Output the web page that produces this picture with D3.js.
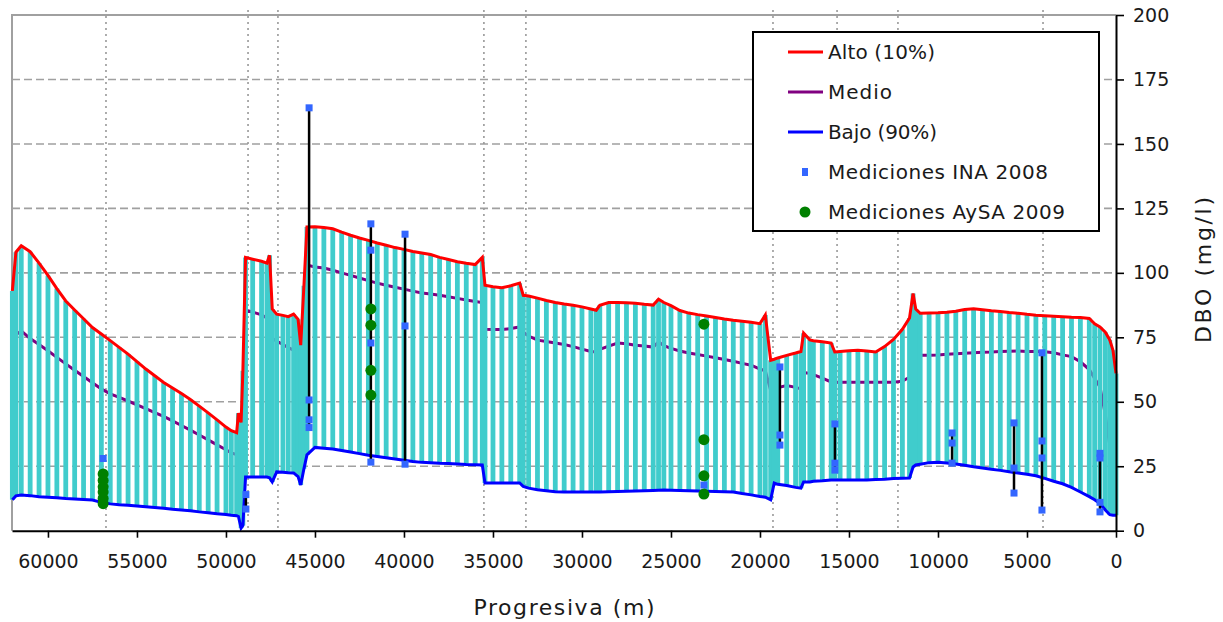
<!DOCTYPE html>
<html lang="es">
	<head>
		<meta charset="UTF-8" />
		<meta name="viewport" content="width=device-width, initial-scale=1.0" />
		<title>DBO a lo largo de la progresiva</title>
		<script src="https://d3js.org/d3.v7.min.js"></script>
		<style>
			body {
				margin: 0;
				background: #ffffff;
			}
			svg text {
				font-family: "DejaVu Sans", sans-serif;
			}
		</style>
	</head>

	<body>
		<svg id="chart" width="1223" height="622"></svg>

		<script>
			// progresiva de cada seccion (m)
			var progresiva = [
				62000, 61800, 61500, 61000, 60500, 60000, 59500, 59000, 58500, 58000,
				57500, 57000, 56500, 56000, 55500, 55000, 54500, 54000, 53500, 53000,
				52500, 52000, 51500, 51000, 50500, 50000, 49700, 49400, 49300, 49150,
				49050, 48900, 48500, 48000, 47700, 47550, 47400, 47150, 46800, 46500,
				46200, 45950, 45800, 45620, 45450, 45000, 44500, 44000, 43500, 43000,
				42500, 42000, 41500, 41000, 40500, 40000, 39500, 39000, 38500, 38000,
				37500, 37000, 36500, 36000, 35600, 35450, 35000, 34500, 34000, 33500,
				33300, 33000, 32500, 32000, 31500, 31000, 30500, 30000, 29500, 29200,
				29000, 28500, 28000, 27500, 27000, 26500, 26000, 25700, 25400, 25000,
				24500, 24000, 23500, 23000, 22500, 22000, 21500, 21000, 20500, 20000,
				19700, 19400, 19200, 19000, 18500, 18000, 17700, 17550, 17200, 17000,
				16500, 16000, 15800, 15500, 15000, 14500, 14000, 13500, 13000, 12500,
				12000, 11600, 11400, 11250, 11000, 10500, 10000, 9500, 9000, 8500,
				8000, 7500, 7000, 6500, 6000, 5500, 5000, 4500, 4000, 3500,
				3000, 2500, 2000, 1500, 1200, 900, 600, 350, 170, 0,
			];
			// DBO alto (10%)
			var alto = [
				93, 108, 110.5, 108.2, 103.8, 99, 93.9, 89.1, 85.6, 82.2,
				78.8, 76.3, 73.7, 71.1, 68.5, 65.6, 62.7, 60.1, 57.5, 55.3,
				53.2, 50.9, 48.3, 45.7, 43, 40.2, 38.8, 38, 45.6, 42,
				62, 106, 105.3, 104.5, 103.8, 106.8, 86, 84, 83.5, 83,
				84, 82, 72, 95, 117.8, 117.9, 117.6, 117.1, 115.8, 114.6,
				113.5, 112.6, 111.6, 110.7, 109.8, 109.1, 108.3, 107.7, 107.1, 106,
				105.2, 104.3, 103.7, 103.2, 106, 95.2, 94.6, 94.2, 95, 96,
				91.3, 91, 90.2, 89.3, 88.5, 87.9, 87.4, 86.8, 86, 85.5,
				87.4, 88.5, 88.5, 88.4, 88.2, 87.8, 87.5, 89.8, 88.5, 87.3,
				85.4, 84.4, 83.8, 83.3, 82.7, 82.1, 81.6, 81.2, 80.8, 80.3,
				83.7, 66.1, 66.5, 67, 68, 68.9, 69.5, 76.6, 74, 73.7,
				73.3, 72.8, 69.3, 69.5, 69.8, 70, 69.7, 69.3, 71.4, 74.2,
				78.1, 82.5, 92, 86, 84.3, 84.4, 84.5, 84.7, 85.1, 85.8,
				86.1, 85.7, 85.3, 85, 84.6, 84.3, 83.9, 83.6, 83.4, 83.2,
				83, 82.8, 82.7, 82.3, 80.2, 79, 77, 74, 70, 61,
			];
			// DBO medio
			var medio = [
				66, 76, 77.5, 74.5, 72.2, 69.8, 67.2, 64.7, 62.2, 59.8,
				57.4, 55, 53.1, 51.7, 50.3, 48.8, 47.3, 45.8, 44.3, 42.6,
				40.8, 39, 37.1, 35.2, 33.3, 31.4, 30.2, 29.5, 30, 29,
				45, 85.5, 84.8, 83.7, 82.5, 81.6, 74.6, 73.5, 72.2, 71,
				70, 69.3, 60, 80, 103, 102.3, 101.9, 101, 100, 99,
				98, 97, 96, 95.2, 94.4, 93.7, 92.9, 92.2, 91.8, 91.3,
				90.7, 90.1, 89.5, 88.9, 88.5, 78.1, 78, 78, 78.4, 79,
				77, 75.5, 73.9, 73.4, 72.8, 72.2, 71.4, 70.4, 69.5, 69.3,
				70.3, 71.6, 72.8, 72.5, 71.9, 71.6, 71.2, 73.2, 71.8, 70.7,
				69.7, 68.9, 68.3, 67.7, 67.1, 66.4, 65.7, 64.9, 64.2, 62.7,
				62, 54.5, 55, 55.5, 56.3, 55.6, 55, 61.4, 61, 60.5,
				59.2, 57.7, 57.6, 57.6, 57.6, 57.6, 57.6, 57.6, 57.6, 57.6,
				58, 59.5, 60, 68.1, 68, 68, 68.1, 68.4, 68.6, 68.8,
				69, 69.2, 69.3, 69.5, 69.6, 69.7, 69.5, 69.5, 69.4, 69,
				68.2, 67.5, 65.5, 62.5, 59, 55.8, 45, 33, 22.4, 8,
			];
			// DBO bajo (90%)
			var bajo = [
				12, 13.5, 13.8, 13.6, 13.2, 13, 12.8, 12.5, 12.3, 12.1,
				11.9, 11, 10.4, 10.1, 9.9, 9.6, 9.3, 9, 8.7, 8.3,
				8, 7.7, 7.3, 7, 6.6, 6.3, 6, 5.8, 5.5, 1,
				2, 20.8, 20.8, 20.8, 20.8, 20.5, 18.9, 22.8, 22.7, 22.5,
				22.4, 21, 17.7, 24, 29.4, 32.3, 32, 31.7, 31.1, 30.5,
				29.9, 29.3, 28.8, 28.3, 27.8, 27.3, 26.8, 26.5, 26.4, 26.2,
				26.1, 25.9, 25.7, 25.6, 25.5, 18.5, 18.5, 18.5, 18.5, 18.5,
				17.2, 16.5, 15.9, 15.5, 15.1, 15, 15, 15, 15, 15,
				15, 15.1, 15.2, 15.3, 15.4, 15.5, 15.6, 15.7, 15.8, 15.7,
				15.6, 15.5, 15.4, 15.3, 15.2, 15.1, 15, 14.4, 13.9, 13.3,
				13, 12, 18.5, 18, 17.5, 16.8, 16.5, 18.9, 18.9, 19.2,
				19.4, 19.7, 19.7, 19.7, 19.7, 19.7, 19.7, 19.9, 20, 20.2,
				20.3, 20.4, 24.7, 25.5, 25.8, 26.4, 26.5, 26.3, 25.9, 25.4,
				24.8, 24.3, 23.8, 23.4, 22.9, 22.4, 21.9, 21.3, 20.3, 19.2,
				18.2, 16.8, 15, 13.2, 12, 10.5, 8, 6.2, 6, 6,
			];

			// Mediciones INA 2008
			var inaProg = [
				56900, 48880, 48880, 45330, 45330, 45330, 45330, 41860, 41860, 41860,
				41860, 39940, 39940, 39940, 23150, 18880, 18880, 18880, 15790, 15790,
				15790, 9210, 9210, 9210, 5730, 5730, 5730, 4160, 4160, 4160,
				4160, 900, 900, 900, 900,
			];
			var inaDbo = [
				28, 14, 8.4, 164, 50.7, 43, 40, 119, 108.8, 72.8,
				26.6, 115, 79.4, 25.8, 17.7, 63.5, 37.1, 33.2, 41.4, 26.2,
				23.5, 37.9, 34, 26.2, 41.8, 24.3, 14.6, 69, 34.8, 28.2,
				8, 30, 28.2, 11, 7.3,
			];

			// Mediciones AySA 2009
			var aysaProg = [
				56900, 56900, 56900, 56900, 56900, 56900, 41860, 41860, 41860, 41860,
				23150, 23150, 23150, 23150,
			];
			var aysaDbo = [
				22, 19.5, 17, 15, 12.5, 10.5, 86, 79.7, 62.2, 52.6,
				80.1, 35.3, 21.3, 14.2,
			];

			// secciones marcadas con linea punteada vertical
			var secciones = [56740, 48760, 47080, 35510, 33150, 19270, 15670, 12250, 4100];

			var xTicks = [60000, 55000, 50000, 45000, 40000, 35000, 30000, 25000, 20000, 15000, 10000, 5000, 0];
			var yTicks = [0, 25, 50, 75, 100, 125, 150, 175, 200];
			var yGrid = [25, 50, 75, 100, 125, 150, 175];

			var leyenda = ["Alto (10%)", "Medio", "Bajo (90%)", "Mediciones INA 2008", "Mediciones AySA 2009"];
			var leyendaAncho = [107, 64, 109, 220, 237];

			(function () {
				var left = 12;
				var right = 1116;
				var top = 15;
				var bottom = 530.7;

				var x = d3.scaleLinear().domain([62020, 0]).range([left, right]);
				var y = d3.scaleLinear().domain([0, 200]).range([bottom, top]);

				var svg = d3.select("#chart");

				// grilla horizontal
				svg
					.append("g")
					.selectAll("line")
					.data(yGrid)
					.enter()
					.append("line")
					.attr("x1", left)
					.attr("x2", right)
					.attr("y1", function (d) {
						return y(d);
					})
					.attr("y2", function (d) {
						return y(d);
					})
					.attr("stroke", "#a0a0a0")
					.attr("stroke-width", 1.6)
					.attr("stroke-dasharray", "8,4");

				// grilla vertical (secciones)
				svg
					.append("g")
					.selectAll("line")
					.data(secciones)
					.enter()
					.append("line")
					.attr("x1", function (d) {
						return x(d);
					})
					.attr("x2", function (d) {
						return x(d);
					})
					.attr("y1", top - 5)
					.attr("y2", bottom)
					.attr("stroke", "#999999")
					.attr("stroke-width", 1.6)
					.attr("stroke-dasharray", "2,4");

				// marco gris
				svg
					.append("path")
					.attr("d", "M" + right + "," + top + "H" + left + "V" + bottom)
					.attr("fill", "none")
					.attr("stroke", "#a0a0a0")
					.attr("stroke-width", 2);

				var serie = function (values) {
					return d3
						.line()
						.x(function (d, i) {
							return x(progresiva[i]);
						})
						.y(function (d) {
							return y(d);
						})(values);
				};

				// medio queda debajo de las barras
				svg
					.append("path")
					.attr("d", serie(medio))
					.attr("fill", "none")
					.attr("stroke", "#800080")
					.attr("stroke-width", 3);

				// barras entre bajo y alto
				svg
					.append("g")
					.selectAll("line")
					.data(progresiva)
					.enter()
					.append("line")
					.attr("x1", function (d) {
						return x(d);
					})
					.attr("x2", function (d) {
						return x(d);
					})
					.attr("y1", function (d, i) {
						return y(bajo[i]);
					})
					.attr("y2", function (d, i) {
						return y(alto[i]);
					})
					.attr("stroke", "#40cccc")
					.attr("stroke-width", 4.8);

				svg
					.append("path")
					.attr("d", serie(alto))
					.attr("fill", "none")
					.attr("stroke", "#ff0000")
					.attr("stroke-width", 3);

				svg
					.append("path")
					.attr("d", serie(bajo))
					.attr("fill", "none")
					.attr("stroke", "#0000ff")
					.attr("stroke-width", 3);

				// rango de mediciones INA en cada punto
				var rangos = d3.rollups(
					d3.range(inaProg.length),
					function (v) {
						return d3.extent(v, function (i) {
							return inaDbo[i];
						});
					},
					function (i) {
						return inaProg[i];
					}
				);

				svg
					.append("g")
					.selectAll("line")
					.data(rangos)
					.enter()
					.append("line")
					.attr("x1", function (d) {
						return x(d[0]);
					})
					.attr("x2", function (d) {
						return x(d[0]);
					})
					.attr("y1", function (d) {
						return y(d[1][0]);
					})
					.attr("y2", function (d) {
						return y(d[1][1]);
					})
					.attr("stroke", "#000000")
					.attr("stroke-width", 2.5);

				svg
					.append("g")
					.selectAll("rect")
					.data(inaProg)
					.enter()
					.append("rect")
					.attr("x", function (d) {
						return x(d) - 3.5;
					})
					.attr("y", function (d, i) {
						return y(inaDbo[i]) - 3.5;
					})
					.attr("width", 7)
					.attr("height", 7)
					.attr("fill", "#3366ff");

				svg
					.append("g")
					.selectAll("circle")
					.data(aysaProg)
					.enter()
					.append("circle")
					.attr("cx", function (d) {
						return x(d);
					})
					.attr("cy", function (d, i) {
						return y(aysaDbo[i]);
					})
					.attr("r", 5.5)
					.attr("fill", "#008000");

				// ejes
				var xAxis = svg
					.append("g")
					.attr("transform", "translate(0," + bottom + ")")
					.call(
						d3
							.axisBottom(x)
							.tickValues(xTicks)
							.tickFormat(d3.format("d"))
							.tickSize(7)
							.tickSizeOuter(0)
							.tickPadding(17)
					);

				var yAxis = svg
					.append("g")
					.attr("transform", "translate(" + right + ",0)")
					.call(d3.axisRight(y).tickValues(yTicks).tickSize(8).tickSizeOuter(0).tickPadding(9));

				[xAxis, yAxis].forEach(function (g) {
					g.select(".domain").attr("stroke", "#000000").attr("stroke-width", 2);
					g.selectAll(".tick line").attr("stroke", "#000000").attr("stroke-width", 1.6);
					g.selectAll(".tick text")
						.attr("font-size", 19)
						.attr("font-family", "DejaVu Sans, sans-serif")
						.attr("fill", "#1a1a1a");
				});

				svg
					.append("text")
					.attr("x", (left + right) / 2)
					.attr("y", 615)
					.attr("text-anchor", "middle")
					.attr("font-size", 22)
					.attr("textLength", 181)
					.attr("lengthAdjust", "spacing")
					.attr("fill", "#1a1a1a")
					.text("Progresiva (m)");

				svg
					.append("text")
					.attr("transform", "translate(1211,270) rotate(-90)")
					.attr("text-anchor", "middle")
					.attr("font-size", 22)
					.attr("textLength", 146)
					.attr("lengthAdjust", "spacing")
					.attr("fill", "#1a1a1a")
					.text("DBO (mg/l)");

				// leyenda
				var ley = svg.append("g").attr("transform", "translate(753,32)");
				ley.append("rect")
					.attr("width", 346)
					.attr("height", 199)
					.attr("fill", "#ffffff")
					.attr("stroke", "#000000")
					.attr("stroke-width", 2);

				var colores = ["#ff0000", "#800080", "#0000ff"];
				var fila = function (i) {
					return 20 + i * 40;
				};

				colores.forEach(function (c, i) {
					ley.append("line")
						.attr("x1", 35)
						.attr("x2", 70)
						.attr("y1", fila(i))
						.attr("y2", fila(i))
						.attr("stroke", c)
						.attr("stroke-width", 3);
				});

				ley.append("rect")
					.attr("x", 49)
					.attr("y", fila(3) - 4)
					.attr("width", 6)
					.attr("height", 8)
					.attr("fill", "#3366ff");

				ley.append("circle")
					.attr("cx", 52)
					.attr("cy", fila(4))
					.attr("r", 5.5)
					.attr("fill", "#008000");

				ley.selectAll("text")
					.data(leyenda)
					.enter()
					.append("text")
					.attr("x", 75)
					.attr("y", function (d, i) {
						return fila(i) + 7;
					})
					.attr("font-size", 20)
					.attr("textLength", function (d, i) {
						return leyendaAncho[i];
					})
					.attr("lengthAdjust", "spacing")
					.attr("fill", "#1a1a1a")
					.text(function (d) {
						return d;
					});
			}).call(this);
		</script>
	</body>
</html>
